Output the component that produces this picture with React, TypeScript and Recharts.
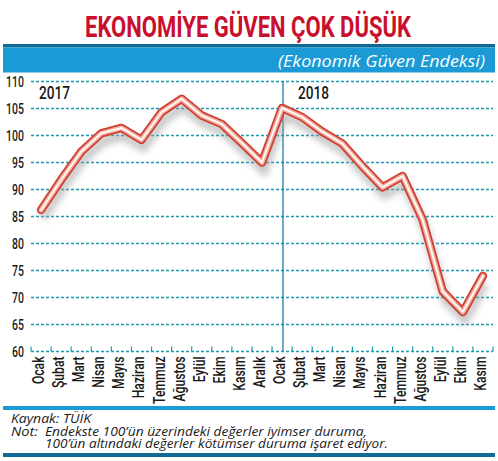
import React from "react";
import {
  LineChart,
  Line,
  XAxis,
  YAxis,
  CartesianGrid,
  ReferenceLine,
} from "recharts";

const months2017 = ["Ocak", "Şubat", "Mart", "Nisan", "Mayıs", "Haziran", "Temmuz", "Ağustos", "Eylül", "Ekim", "Kasım", "Aralık"];
const months2018 = ["Ocak", "Şubat", "Mart", "Nisan", "Mayıs", "Haziran", "Temmuz", "Ağustos", "Eylül", "Ekim", "Kasım"];
const values2017 = [86.2, 91.8, 97.0, 100.4, 101.4, 99.2, 104.3, 106.8, 103.7, 102.1, 98.6, 95.0];
const values2018 = [105.1, 103.4, 100.7, 98.5, 94.3, 90.4, 92.5, 84.4, 71.1, 67.3, 74.0];
const yTicks = [60, 65, 70, 75, 80, 85, 90, 95, 100, 105, 110];
const years = ["2017", "2018"];

const title = "EKONOMİYE GÜVEN ÇOK DÜŞÜK";
const subtitle = "(Ekonomik Güven Endeksi)";
const source = "Kaynak: TÜİK";
const noteLabel = "Not:";
const noteLines = [
  "Endekste 100’ün üzerindeki değerler iyimser duruma,",
  "100’ün altındaki değerler kötümser duruma işaret ediyor.",
];

const data = [
  ...months2017.map((ay, i) => ({ key: `2017-${i}`, ay, endeks: values2017[i] })),
  ...months2018.map((ay, i) => ({ key: `2018-${i}`, ay, endeks: values2018[i] })),
];

// no condensed face is installed, so Roboto is squeezed horizontally
const NARROW = "Roboto, 'Noto Sans', sans-serif";
const ITALIC = "'Open Sans', 'Noto Sans', sans-serif";
const GRID = "#1c9cb4";
const DARK_BLUE = "#0f6b94";
const LIGHT_BLUE = "#1b9ad6";
const INK = "#1a1a1a";

function MonthTick(props: any) {
  const { x, y, payload, index } = props;
  const half = payload?.offset ?? 10;
  const row = data.find((d) => d.key === payload.value);
  const ty = y + 5;
  return (
    <g>
      <line x1={x - half} x2={x - half} y1={y} y2={y - 5} stroke={GRID} strokeWidth={1.2} />
      {index === data.length - 1 && (
        <line x1={x + half} x2={x + half} y1={y} y2={y - 5} stroke={GRID} strokeWidth={1.2} />
      )}
      <text
        transform={`translate(${x},${ty}) rotate(-90) scale(0.76,1)`}
        dy={3}
        textAnchor="end"
        fontFamily={NARROW}
        fontWeight={500}
        fontSize={16}
        fill={INK}
      >
        {row ? row.ay : ""}
      </text>
    </g>
  );
}

function ValueTick(props: any) {
  const { x, y, payload } = props;
  return (
    <text
      transform={`translate(${x},${y}) scale(0.7,1)`}
      dy="0.36em"
      textAnchor="end"
      fontFamily={NARROW}
      fontWeight={500}
      fontSize={15}
      fill={INK}
    >
      {payload.value}
    </text>
  );
}

function yearLabel(text: string, dx: number) {
  return ({ viewBox }: any) => (
    <text
      transform={`translate(${viewBox.x + dx},${viewBox.y + 17.5}) scale(0.72,1)`}
      fontFamily={NARROW}
      fontWeight={500}
      fontSize={19}
      fill={INK}
    >
      {text}
    </text>
  );
}

export default function App() {
  return (
    <div style={{ position: "absolute", left: 0, top: 0, width: 498, height: 461, background: "#fff" }}>
      <style>{`.shadow-line .recharts-line-curve { filter: url(#lineShadow); }`}</style>
      <svg width={498} height={461} style={{ position: "absolute", left: 0, top: 0 }}>
        <defs>
          <filter id="lineShadow" x="-20%" y="-20%" width="140%" height="160%">
            <feOffset dx="2" dy="8" />
            <feGaussianBlur stdDeviation="3.5" />
          </filter>
        </defs>
        <text
          x={85}
          y={37}
          textLength={326}
          lengthAdjust="spacingAndGlyphs"
          fontFamily={NARROW}
          fontWeight="bold"
          fontSize={30}
          fill="#c8102e"
        >
          {title}
        </text>
        <rect x={3} y={44} width={492} height={3.5} fill={DARK_BLUE} />
        <rect x={3} y={47.5} width={492} height={25} fill={LIGHT_BLUE} />
        <text
          x={485}
          y={67}
          textAnchor="end"
          textLength={207}
          lengthAdjust="spacingAndGlyphs"
          fontFamily={ITALIC}
          fontStyle="italic"
          fontSize={17}
          fill="#fff"
        >
          {subtitle}
        </text>
        <rect x={3} y={406} width={492} height={4} fill={LIGHT_BLUE} />
        <text x={11} y={423} textLength={80} lengthAdjust="spacingAndGlyphs" fontFamily={ITALIC} fontStyle="italic" fontSize={12} fill={INK}>
          {source}
        </text>
        <text x={11} y={435.5} textLength={27} lengthAdjust="spacingAndGlyphs" fontFamily={ITALIC} fontStyle="italic" fontSize={12} fill={INK}>
          {noteLabel}
        </text>
        <text x={45} y={435.5} textLength={322} lengthAdjust="spacingAndGlyphs" fontFamily={ITALIC} fontStyle="italic" fontSize={12} fill={INK}>
          {noteLines[0]}
        </text>
        <text x={45} y={447.5} textLength={343} lengthAdjust="spacingAndGlyphs" fontFamily={ITALIC} fontStyle="italic" fontSize={12} fill={INK}>
          {noteLines[1]}
        </text>
        <rect x={3} y={453} width={492} height={4} fill={DARK_BLUE} />
      </svg>

      <div style={{ position: "absolute", left: 0, top: 72 }}>
        <LineChart
          width={498}
          height={335}
          data={data}
          margin={{ top: 9.5, right: 5, left: 0, bottom: 0 }}
        >
          <CartesianGrid
            vertical={false}
            stroke={GRID}
            strokeDasharray="3 2"
            strokeWidth={1.3}
          />
          <XAxis
            dataKey="key"
            scale="band"
            interval={0}
            height={55.5}
            axisLine={false}
            tickLine={false}
            tickSize={0}
            tickMargin={0}
            tick={<MonthTick />}
          />
          <XAxis xAxisId="edge" type="number" domain={[0, data.length]} hide allowDataOverflow />
          <YAxis
            domain={[60, 110]}
            ticks={yTicks}
            interval={0}
            width={31}
            axisLine={false}
            tickLine={false}
            tickSize={0}
            tickMargin={7}
            tick={<ValueTick />}
          />
          <ReferenceLine
            xAxisId="edge"
            x={0}
            stroke="none"
            label={yearLabel(years[0], 8)}
          />
          <ReferenceLine
            xAxisId="edge"
            x={months2017.length}
            stroke="#1a7fa8"
            strokeWidth={1.3}
            label={yearLabel(years[1], 15)}
          />
          <Line
            className="shadow-line"
            dataKey="endeks"
            type="linear"
            stroke="#9a9a9a"
            strokeOpacity={0.6}
            strokeWidth={8}
            dot={false}
            activeDot={false}
            isAnimationActive={false}
          />
          <Line
            dataKey="endeks"
            type="linear"
            stroke="#cf3f33"
            strokeWidth={8.5}
            strokeLinejoin="round"
            strokeLinecap="round"
            dot={false}
            activeDot={false}
            isAnimationActive={false}
          />
          <Line
            dataKey="endeks"
            type="linear"
            stroke="#f1aa9c"
            strokeWidth={5}
            strokeLinejoin="round"
            strokeLinecap="round"
            dot={false}
            activeDot={false}
            isAnimationActive={false}
          />
          <Line
            dataKey="endeks"
            type="linear"
            stroke="#fffaf7"
            strokeWidth={2}
            strokeLinejoin="round"
            strokeLinecap="round"
            dot={false}
            activeDot={false}
            isAnimationActive={false}
          />
        </LineChart>
      </div>
    </div>
  );
}
